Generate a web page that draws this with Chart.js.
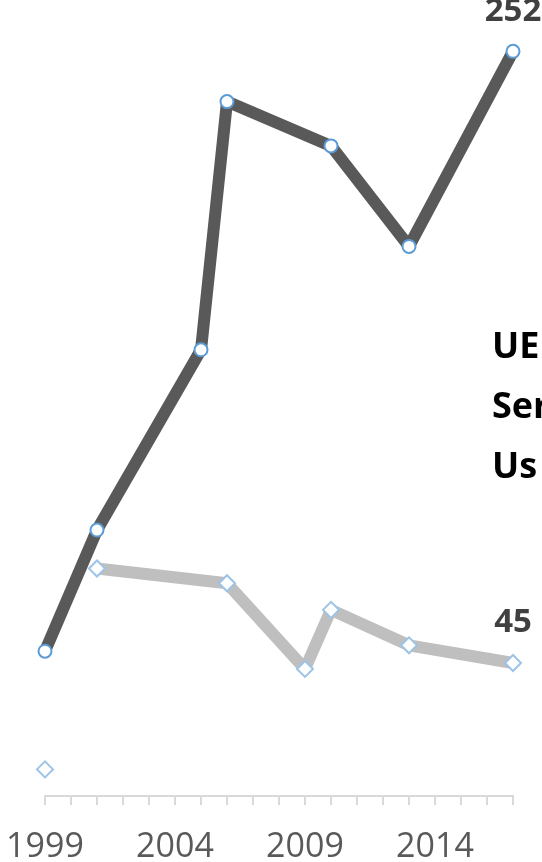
<!DOCTYPE html>
<html>
<head>
<meta charset="utf-8">
<style>
  html, body { margin: 0; padding: 0; background: #ffffff; overflow: hidden; }
  #wrap { position: relative; width: 542px; height: 862px; }
</style>
<script src="https://cdn.jsdelivr.net/npm/chart.js@4/dist/chart.umd.min.js"></script>
</head>
<body>
<div id="wrap"><canvas id="c" width="542" height="862"></canvas></div>
<script>
// Survey years and values for the two series
const darkYears  = [1999, 2001, 2005, 2006, 2010, 2013, 2017];
const darkValues = [49, 90, 151, 235, 220, 186, 252];

// 2000 has no value, so the light series breaks after 1999
const grayYears  = [1999, 2000, 2001, 2006, 2009, 2010, 2013, 2017];
const grayValues = [9, null, 77, 72, 43, 63, 51, 45];

// Years that carry a label on the horizontal axis
const yearLabels = [1999, 2004, 2009, 2014];

// Bold caption lines at the right edge
const sideText = ['UE', 'Ser', 'Us'];

const FONT = "'Open Sans', 'Liberation Sans', sans-serif";

function toPoints(xs, ys) {
  return xs.map((x, i) => ({ x: x, y: ys[i] }));
}

// Value label above the last point of each series
const endLabels = {
  id: 'endLabels',
  afterDatasetsDraw(chart) {
    const ctx = chart.ctx;
    ctx.save();
    ctx.font = "bold 33px " + FONT;
    ctx.fillStyle = '#404040';
    ctx.textAlign = 'center';
    ctx.textBaseline = 'middle';
    chart.data.datasets.forEach((ds, di) => {
      const meta = chart.getDatasetMeta(di);
      let last = ds.data.length - 1;
      while (last >= 0 && ds.data[last].y == null) last--;
      if (last < 0) return;
      const el = meta.data[last];
      ctx.fillText(String(ds.data[last].y), el.x, el.y - 40);
    });
    ctx.restore();
  }
};

// Caption lines drawn at the right side
const caption = {
  id: 'caption',
  afterDraw(chart) {
    const ctx = chart.ctx;
    ctx.save();
    ctx.font = "bold 36px " + FONT;
    ctx.fillStyle = '#000000';
    ctx.textAlign = 'left';
    ctx.textBaseline = 'alphabetic';
    sideText.forEach((t, i) => {
      ctx.fillText(t, 492, 358 + i * 60);
    });
    ctx.restore();
  }
};

new Chart(document.getElementById('c'), {
  type: 'line',
  data: {
    datasets: [
      {
        label: 'dark',
        data: toPoints(darkYears, darkValues),
        borderColor: '#595959',
        borderWidth: 12,
        borderJoinStyle: 'round',
        pointStyle: 'circle',
        pointRadius: 6.5,
        pointBorderWidth: 2,
        pointBorderColor: '#5b9bd5',
        pointBackgroundColor: '#ffffff',
        tension: 0,
        clip: false
      },
      {
        label: 'light',
        data: toPoints(grayYears, grayValues),
        borderColor: '#bfbfbf',
        borderWidth: 12,
        borderJoinStyle: 'round',
        pointStyle: 'rectRot',
        pointRadius: 8,
        pointBorderWidth: 2,
        pointBorderColor: '#9dc3e6',
        pointBackgroundColor: '#ffffff',
        spanGaps: false,
        tension: 0,
        clip: false
      }
    ]
  },
  options: {
    responsive: false,
    devicePixelRatio: 1,
    animation: false,
    layout: { padding: { left: 45, right: 29, top: 0, bottom: 0 } },
    plugins: {
      legend: { display: false },
      tooltip: { enabled: false },
      title: { display: false }
    },
    scales: {
      x: {
        type: 'linear',
        min: 1999,
        max: 2017,
        afterFit(scale) {
          scale.height = 66;
          scale.paddingLeft = 0;
          scale.paddingRight = 0;
        },
        border: { display: true, color: '#d9d9d9', width: 2 },
        grid: {
          drawOnChartArea: false,
          drawTicks: true,
          tickLength: 9,
          color: '#d9d9d9',
          lineWidth: 2
        },
        ticks: {
          stepSize: 1,
          autoSkip: false,
          maxRotation: 0,
          padding: 22,
          color: '#595959',
          font: { family: FONT, size: 34 },
          callback: (v) => yearLabels.includes(v) ? String(v) : ''
        }
      },
      y: {
        display: false,
        min: 0,
        max: 266
      }
    }
  },
  plugins: [endLabels, caption]
});
</script>
</body>
</html>
